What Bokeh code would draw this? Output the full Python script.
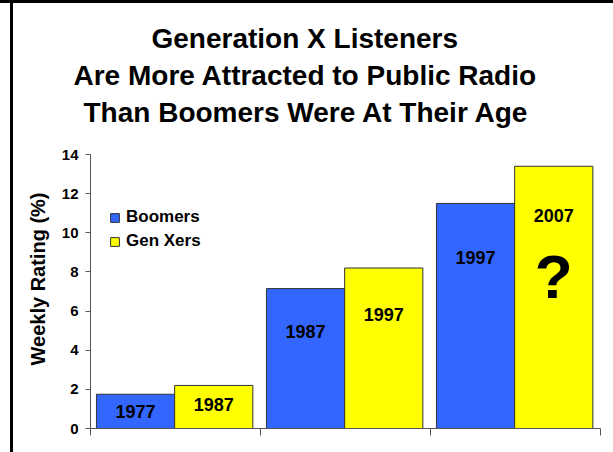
from bokeh.plotting import figure
from bokeh.models import Range1d, FixedTicker, Title, ColumnDataSource, Legend, LegendItem
from bokeh.transform import dodge
from bokeh.core.properties import value
from bokeh.embed import file_html
from bokeh.resources import INLINE

# ---------------- data ----------------
groups = ["Boomers 1977 / Gen X 1987", "Boomers 1987 / Gen X 1997", "Boomers 1997 / Gen X 2007"]
boomers = [1.75, 7.15, 11.5]
genx = [2.2, 8.2, 13.4]
boomer_years = ["1977", "1987", "1997"]
genx_years = ["1987", "1997", "2007"]
y_ticks = [0, 2, 4, 6, 8, 10, 12, 14]
title_lines = ["Generation X Listeners",
               "Are More Attracted to Public Radio",
               "Than Boomers Were At Their Age"]
y_label = "Weekly Rating (%)"
series_names = ["Boomers", "Gen Xers"]
unknown_mark = "?"

# ---------------- layout / style (not data) ----------------
FONT = "Liberation Sans"
BLUE = "#3366FF"
YELLOW = "#FFFF00"
AX = "#555555"
boomer_label_y = [0.88, 4.96, 8.74]
genx_label_y = [1.22, 5.82, 10.88]
question_y = 7.77
Y_AXIS_MAX = 14
Y_VIEW_MAX = Y_AXIS_MAX + 25 / 19.57   # invisible headroom above the axis
title_offsets = [61, -17, -7]          # px from frame left, to centre lines on the page

xpos = [i + 0.495 for i in range(len(groups))]
src = ColumnDataSource(dict(x=xpos, boomers=boomers, genx=genx,
                            by=boomer_years, gy=genx_years,
                            bly=boomer_label_y, gly=genx_label_y))

p = figure(width=613, height=452, output_backend="svg", toolbar_location=None,
           x_range=Range1d(0, len(groups)), y_range=Range1d(0, Y_VIEW_MAX),
           min_border_left=90, min_border_right=13, min_border_top=129,
           min_border_bottom=24)
p.border_fill_color = None
p.styles = {"background": "linear-gradient(#000,#000) 10px 0 / 3px 100% no-repeat, "
                          "linear-gradient(#000,#000) 0 0 / 100% 3px no-repeat, #fff"}
p.outline_line_color = None
p.xgrid.visible = False
p.ygrid.visible = False

rb = p.vbar(x=dodge("x", -0.23), top="boomers", width=0.46, source=src,
            fill_color=BLUE, line_color="#333333", line_width=1)
ry = p.vbar(x=dodge("x", 0.23), top="genx", width=0.46, source=src,
            fill_color=YELLOW, line_color="#333333", line_width=1)

p.text(x=dodge("x", -0.23), y="bly", text="by", source=src,
       text_align="center", text_baseline="middle", text_font=value(FONT),
       text_font_style="bold", text_font_size="18px", text_color="black")
p.text(x=dodge("x", 0.23), y="gly", text="gy", source=src,
       text_align="center", text_baseline="middle", text_font=value(FONT),
       text_font_style="bold", text_font_size="18px", text_color="black")
p.text(x=[xpos[-1] + 0.23], y=[question_y], text=[unknown_mark],
       text_align="center", text_baseline="middle", text_font=value(FONT),
       text_font_style="bold", text_font_size="62px", text_color="black")

# axes
p.yaxis.ticker = FixedTicker(ticks=y_ticks)
p.yaxis.bounds = (0, Y_AXIS_MAX)
p.yaxis.axis_label = y_label
p.yaxis.axis_label_text_font = FONT
p.yaxis.axis_label_text_font_style = "bold"
p.yaxis.axis_label_text_font_size = "20px"
p.yaxis.axis_label_text_color = "black"
p.yaxis.axis_label_standoff = 10
p.yaxis.major_label_text_font = FONT
p.yaxis.major_label_text_font_style = "bold"
p.yaxis.major_label_text_font_size = "15px"
p.yaxis.major_label_text_color = "black"
p.yaxis.major_label_standoff = 7
p.yaxis.major_tick_out = 5
p.yaxis.major_tick_in = 0
p.yaxis.minor_tick_line_color = None
p.yaxis.axis_line_color = AX
p.yaxis.major_tick_line_color = AX

# x axis: only unlabeled boundary ticks between the groups
p.xaxis.ticker = FixedTicker(ticks=[], minor_ticks=list(range(len(groups) + 1)))
p.xaxis.minor_tick_out = 7
p.xaxis.minor_tick_in = 0
p.xaxis.minor_tick_line_color = AX
p.xaxis.major_tick_line_color = None
p.xaxis.axis_line_color = AX

legend = Legend(items=[LegendItem(label=series_names[0], renderers=[rb]),
                       LegendItem(label=series_names[1], renderers=[ry])],
                location=(19, 177), padding=0, margin=0, spacing=4,
                glyph_width=11, glyph_height=11, label_height=20,
                label_standoff=6, label_text_font=FONT,
                label_text_font_style="bold", label_text_font_size="17px",
                label_text_color="black",
                border_line_alpha=0, background_fill_alpha=0)
p.add_layout(legend, "center")

# title, three lines (added nearest-first)
for line, off in zip(reversed(title_lines), reversed(title_offsets)):
    p.add_layout(Title(text=line, align="left", text_font=FONT,
                       text_font_style="bold", text_font_size="28px",
                       text_color="black", standoff=4, offset=off), "above")

open("out.html", "w").write(file_html(p, INLINE))
